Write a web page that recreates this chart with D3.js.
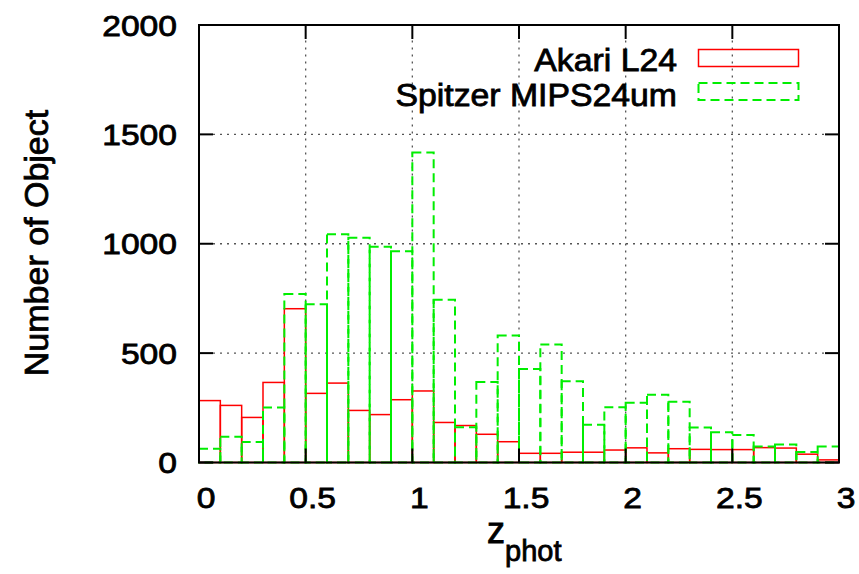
<!DOCTYPE html>
<html>
<head>
<meta charset="utf-8">
<script src="https://cdn.jsdelivr.net/npm/d3@7"></script>
<style>
  html, body { margin: 0; padding: 0; background: #fff; }
  svg { display: block; font-family: "Liberation Sans", Arial, sans-serif; }
  text { fill: #000; stroke: #000; stroke-width: 0.8px; }
</style>
</head>
<body>
<svg id="chart" width="859" height="574"></svg>
<script>
// Photometric redshift histograms, bin width 0.1 from 0 to 3
const binStarts = d3.range(0, 30).map(i => i / 10);
const binWidth = 0.1;

const akariL24 = [283, 261, 206, 366, 703, 316, 363, 238, 219, 287,
                  327, 183, 169, 129, 95, 42, 42, 47, 47, 57,
                  67, 44, 63, 60, 59, 59, 68, 66, 38, 12];

const spitzerMips24 = [63, 118, 94, 251, 770, 724, 1044, 1028, 986, 966,
                       1417, 744, 161, 368, 581, 427, 540, 371, 173, 253,
                       273, 310, 278, 160, 138, 126, 73, 82, 48, 73];

const xTicks = [0, 0.5, 1, 1.5, 2, 2.5, 3];
const yTicks = [0, 500, 1000, 1500, 2000];
const seriesNames = ["Akari L24", "Spitzer MIPS24um"];

const svg = d3.select("#chart");
const plotLeft = 199, plotRight = 839, plotTop = 25, plotBottom = 462.5;

const x = d3.scaleLinear().domain([0, 3]).range([plotLeft, plotRight]);
const y = d3.scaleLinear().domain([0, 2000]).range([plotBottom, plotTop]);

// grid
const grid = svg.append("g").attr("stroke", "#555").attr("stroke-width", 1.3)
  .attr("stroke-dasharray", "2,5");
xTicks.filter(t => t > 0 && t < 3).forEach(t => {
  grid.append("line").attr("x1", x(t)).attr("x2", x(t))
    .attr("y1", plotBottom - 14).attr("y2", plotTop + 14);
});
yTicks.filter(t => t > 0 && t < 2000).forEach(t => {
  grid.append("line").attr("y1", y(t)).attr("y2", y(t))
    .attr("x1", plotLeft + 14).attr("x2", plotRight - 14);
});

// histogram boxes
function drawBoxes(values, color, dash, width) {
  svg.append("g").selectAll("rect").data(values).join("rect")
    .attr("x", (d, i) => x(binStarts[i]))
    .attr("width", (d, i) => x(binStarts[i] + binWidth) - x(binStarts[i]))
    .attr("y", d => y(d))
    .attr("height", d => y(0) - y(d))
    .attr("fill", "none")
    .attr("stroke", color)
    .attr("stroke-width", width)
    .attr("stroke-dasharray", dash);
}
drawBoxes(akariL24, "#ff0000", null, 1.5);
drawBoxes(spitzerMips24, "#00ee00", "9,5", 2);

// frame and inward ticks on all sides
const axes = svg.append("g").attr("stroke", "#000").attr("stroke-width", 2);
axes.append("rect").attr("x", plotLeft).attr("y", plotTop)
  .attr("width", plotRight - plotLeft).attr("height", plotBottom - plotTop).attr("fill", "none");
xTicks.forEach(t => {
  axes.append("line").attr("x1", x(t)).attr("x2", x(t)).attr("y1", plotBottom).attr("y2", plotBottom - 14);
  axes.append("line").attr("x1", x(t)).attr("x2", x(t)).attr("y1", plotTop).attr("y2", plotTop + 14);
});
yTicks.forEach(t => {
  axes.append("line").attr("y1", y(t)).attr("y2", y(t)).attr("x1", plotLeft).attr("x2", plotLeft + 14);
  axes.append("line").attr("y1", y(t)).attr("y2", y(t)).attr("x1", plotRight).attr("x2", plotRight - 14);
});

// tick labels
const fmt = d => String(d);
yTicks.forEach(t => {
  svg.append("text")
    .attr("transform", `translate(177,${y(t) + 10.5}) scale(1.14,1)`)
    .attr("text-anchor", "end").attr("font-size", 29.5).text(fmt(t));
});
xTicks.forEach(t => {
  svg.append("text")
    .attr("transform", `translate(${x(t) + 7},508) scale(1.14,1)`)
    .attr("text-anchor", "middle").attr("font-size", 29.5).text(fmt(t));
});

// axis titles
svg.append("text")
  .attr("transform", "translate(48,243) rotate(-90)")
  .attr("text-anchor", "middle").attr("font-size", 34).text("Number of Object");

const xt = svg.append("text").attr("x", 487).attr("y", 543).attr("font-size", 36);
xt.append("tspan").text("z");
xt.append("tspan").attr("dy", 18).attr("font-size", 29).text("phot");

// legend
const legend = svg.append("g");
seriesNames.forEach((name, i) => {
  const by = 71 + i * 35;
  legend.append("text")
    .attr("transform", `translate(677,${by}) scale(1.09,1)`)
    .attr("text-anchor", "end").attr("font-size", 31).text(name);
  legend.append("rect").attr("x", 698.5).attr("y", by - 21.5 - i * 1.5)
    .attr("width", 100).attr("height", 17).attr("fill", "none")
    .attr("stroke", i === 0 ? "#ff0000" : "#00ee00")
    .attr("stroke-width", i === 0 ? 1.5 : 2)
    .attr("stroke-dasharray", i === 0 ? null : "9,5");
});
</script>
</body>
</html>
